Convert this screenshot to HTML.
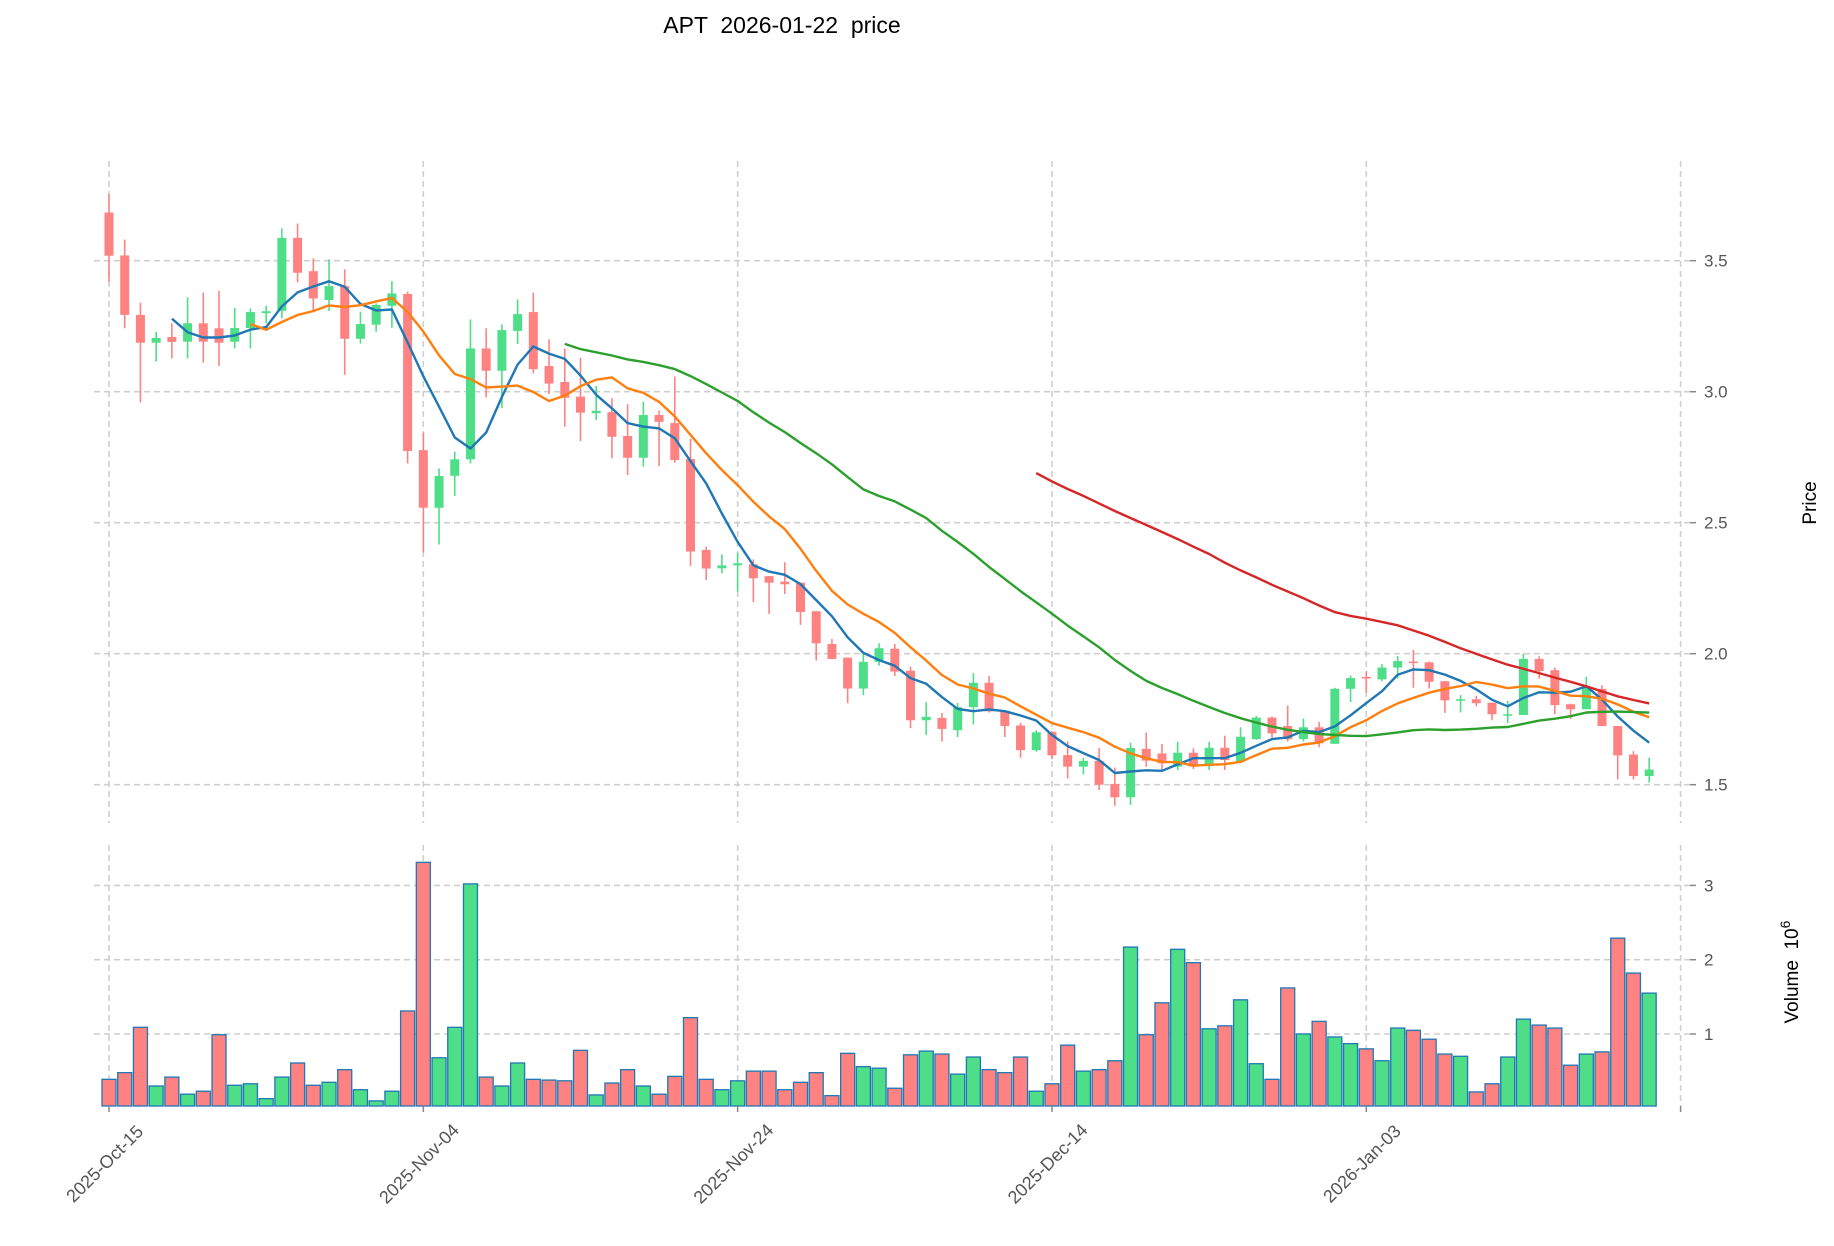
<!DOCTYPE html>
<html><head><meta charset="utf-8"><title>APT price</title>
<style>
html,body{margin:0;padding:0;background:#fff;}
svg{display:block;font-family:"Liberation Sans","DejaVu Sans",sans-serif;}
</style></head>
<body>
<svg id="chart" width="1834" height="1246" viewBox="0 0 1834 1246" xmlns="http://www.w3.org/2000/svg">
<text x="782" y="33" font-size="23" text-anchor="middle" fill="#000" style="white-space:pre" xml:space="preserve">APT  2026-01-22  price</text>
<text transform="translate(1816,503) rotate(-90)" font-size="19" text-anchor="middle" fill="#000">Price</text>
<text transform="translate(1798,972) rotate(-90)" font-size="19" text-anchor="middle" fill="#000" xml:space="preserve">Volume  10<tspan dy="-8" font-size="14">6</tspan></text>
<g id="grid"></g>
<g id="vol"></g>
<g id="candles"></g>
<g id="mas"></g>
<g id="axes"></g>
</svg>
<script>
const opens  = [3.684,3.52,3.293,3.187,3.209,3.191,3.261,3.242,3.191,3.243,3.3,3.309,3.587,3.46,3.35,3.403,3.202,3.256,3.328,3.373,2.777,2.557,2.679,2.742,3.165,3.08,3.232,3.304,3.098,3.037,2.981,2.918,2.922,2.831,2.748,2.911,2.88,2.743,2.396,2.326,2.337,2.341,2.296,2.275,2.271,2.162,2.037,1.985,1.867,1.969,2.019,1.935,1.746,1.755,1.708,1.796,1.889,1.78,1.726,1.632,1.702,1.613,1.569,1.591,1.503,1.452,1.637,1.619,1.569,1.622,1.571,1.641,1.588,1.674,1.756,1.724,1.674,1.719,1.656,1.866,1.911,1.902,1.947,1.97,1.967,1.895,1.822,1.826,1.813,1.767,1.766,1.98,1.937,1.807,1.788,1.866,1.724,1.615,1.533];
const closes = [3.519,3.293,3.187,3.205,3.19,3.261,3.191,3.187,3.243,3.304,3.307,3.587,3.454,3.356,3.403,3.202,3.258,3.331,3.375,2.774,2.557,2.678,2.742,3.165,3.08,3.235,3.296,3.086,3.031,2.977,2.92,2.927,2.828,2.748,2.911,2.885,2.739,2.39,2.325,2.337,2.345,2.288,2.271,2.265,2.159,2.04,1.98,1.867,1.969,2.021,1.932,1.746,1.759,1.713,1.796,1.889,1.78,1.724,1.632,1.7,1.612,1.569,1.591,1.5,1.452,1.64,1.592,1.582,1.622,1.569,1.641,1.594,1.683,1.756,1.696,1.674,1.719,1.658,1.866,1.907,1.907,1.947,1.972,1.967,1.893,1.822,1.826,1.811,1.769,1.769,1.98,1.934,1.804,1.788,1.874,1.724,1.612,1.533,1.558];
const highs  = [3.754,3.581,3.34,3.229,3.261,3.36,3.378,3.385,3.32,3.318,3.328,3.623,3.642,3.509,3.505,3.467,3.305,3.337,3.422,3.382,2.844,2.707,2.771,3.276,3.242,3.257,3.352,3.378,3.2,3.165,3.13,3.022,2.975,2.952,2.962,2.928,3.058,2.82,2.408,2.379,2.386,2.36,2.296,2.349,2.271,2.162,2.056,1.985,2.002,2.04,2.037,1.951,1.815,1.774,1.812,1.926,1.915,1.78,1.736,1.708,1.702,1.666,1.603,1.64,1.565,1.66,1.699,1.655,1.664,1.639,1.664,1.687,1.719,1.762,1.76,1.802,1.752,1.74,1.87,1.917,1.934,1.96,1.991,2.014,1.97,1.895,1.842,1.839,1.813,1.82,2.0,1.99,1.947,1.809,1.912,1.879,1.724,1.628,1.603];
const lows   = [3.42,3.242,2.959,3.115,3.127,3.127,3.111,3.098,3.165,3.165,3.261,3.28,3.417,3.303,3.308,3.064,3.184,3.229,3.244,2.726,2.386,2.417,2.602,2.726,2.978,2.937,3.182,3.07,2.991,2.866,2.812,2.892,2.746,2.682,2.714,2.716,2.729,2.335,2.281,2.307,2.237,2.197,2.152,2.228,2.11,1.974,1.98,1.811,1.842,1.954,1.915,1.716,1.69,1.665,1.682,1.73,1.775,1.682,1.603,1.626,1.598,1.524,1.539,1.48,1.419,1.423,1.569,1.553,1.556,1.56,1.556,1.556,1.582,1.671,1.68,1.665,1.665,1.643,1.656,1.815,1.852,1.895,1.905,1.87,1.867,1.774,1.776,1.8,1.746,1.735,1.766,1.905,1.769,1.751,1.788,1.724,1.52,1.52,1.508];
const volumes = [0.39,0.48,1.09,0.30,0.42,0.19,0.23,0.99,0.31,0.33,0.13,0.42,0.61,0.31,0.35,0.52,0.25,0.10,0.23,1.31,3.31,0.68,1.09,3.02,0.42,0.30,0.61,0.39,0.38,0.37,0.78,0.18,0.34,0.52,0.30,0.19,0.43,1.22,0.39,0.25,0.37,0.50,0.50,0.25,0.35,0.48,0.17,0.74,0.56,0.54,0.27,0.72,0.77,0.73,0.46,0.69,0.52,0.48,0.69,0.23,0.33,0.85,0.50,0.52,0.64,2.17,0.99,1.42,2.14,1.96,1.07,1.11,1.46,0.60,0.39,1.62,1.00,1.17,0.96,0.87,0.80,0.64,1.08,1.05,0.93,0.73,0.70,0.22,0.33,0.69,1.20,1.12,1.08,0.58,0.73,0.76,2.29,1.82,1.55];
const tickLabels = ["2025-Oct-15","2025-Nov-04","2025-Nov-24","2025-Dec-14","2026-Jan-03"];
const tickIdx = [0,20,40,60,80,100];
const priceTicks = [1.5,2.0,2.5,3.0,3.5];
const volTicks = [1,2,3];
const maPeriods = [5,10,30,60];
const maColors = ["#1f77b4","#ff7f0e","#2ca02c","#d62728"];

const NS = "http://www.w3.org/2000/svg";
const X0 = 109, DX = 15.716;
const xOf = i => X0 + DX * i;
const yP = p => 260.7 + (3.5 - p) * 262;
const yV = v => 1108.3 - v * 74.3;
const P_TOP = 161, P_BOT = 823, V_TOP = 845, V_BOT = 1106, XL = 94, XR = 1690;
function mk(tag, attrs, parent) { const e = document.createElementNS(NS, tag); for (const k in attrs) e.setAttribute(k, attrs[k]); parent.appendChild(e); return e; }
const grid = document.getElementById('grid'), vol = document.getElementById('vol'), cg = document.getElementById('candles'), mg = document.getElementById('mas'), ax = document.getElementById('axes');
const gstyle = {stroke:"#cfcfcf","stroke-width":1.6,"stroke-dasharray":"6,4",fill:"none"};

tickIdx.forEach(i => {
  const x = xOf(i);
  const l1 = mk('line', Object.assign({x1:x,x2:x,y1:P_TOP,y2:P_BOT}, gstyle), grid);
  
  
  const l2 = mk('line', Object.assign({x1:x,x2:x,y1:V_TOP,y2:V_BOT}, gstyle), grid);
  
  
  const tk = mk('line', {x1:x,x2:x,y1:V_BOT,y2:V_BOT+6,stroke:"#888","stroke-width":1.5}, ax);
  
  
});
tickLabels.forEach((lab, k) => {
  const x = xOf(tickIdx[k]), y = V_BOT + 62;
  const t = mk('text', {x:x, y:y, "font-size":18, fill:"#555", "text-anchor":"middle", transform:`rotate(-45 ${x} ${y})`}, ax);
  t.textContent = lab;
  
  
});
priceTicks.forEach(p => {
  const y = yP(p);
  const l = mk('line', Object.assign({x1:XL,x2:XR,y1:y,y2:y}, gstyle), grid);
  
  
  const tk = mk('line', {x1:XR,x2:XR+6,y1:y,y2:y,stroke:"#888","stroke-width":1.5}, ax);
  
  
  const t = mk('text', {x:XR+14, y:y+6, "font-size":17, fill:"#555"}, ax);
  t.textContent = p.toFixed(1);
  
  
});
volTicks.forEach(v => {
  const y = yV(v);
  const l = mk('line', Object.assign({x1:XL,x2:XR,y1:y,y2:y}, gstyle), grid);
  
  
  const tk = mk('line', {x1:XR,x2:XR+6,y1:y,y2:y,stroke:"#888","stroke-width":1.5}, ax);
  
  
  const t = mk('text', {x:XR+14, y:y+6, "font-size":17, fill:"#555"}, ax);
  t.textContent = String(v);
  
  
});

const UP = "#4ede88", DN = "#ff8282";
closes.forEach((c, i) => {
  const o = opens[i], up = c >= o, col = up ? UP : DN, x = xOf(i);
  const w = mk('line', {x1:x,x2:x,y1:yP(highs[i]),y2:yP(lows[i]),stroke:col,"stroke-width":1.6}, cg);
  
  
  const top = yP(Math.max(o, c)), bot = yP(Math.min(o, c));
  const b = mk('rect', {x:x-4.5, y:top, width:9, height:Math.max(bot-top, 1.5), fill:col}, cg);
  
  
  const vy = yV(volumes[i]);
  const vb = mk('rect', {x:x-7, y:vy, width:14, height:V_BOT-vy, fill:col, stroke:"#1f77b4", "stroke-width":1.3}, vol);
  
  
});

maPeriods.forEach((n, k) => {
  const pts = [];
  for (let i = n - 1; i < closes.length; i++) {
    let s = 0; for (let j = i - n + 1; j <= i; j++) s += closes[j];
    pts.push(xOf(i).toFixed(1) + "," + yP(s / n).toFixed(1));
  }
  const pl = mk('polyline', {points:pts.join(" "), fill:"none", stroke:maColors[k], "stroke-width":2.4, "stroke-linejoin":"round"}, mg);
  
  
});
</script>
</body></html>
